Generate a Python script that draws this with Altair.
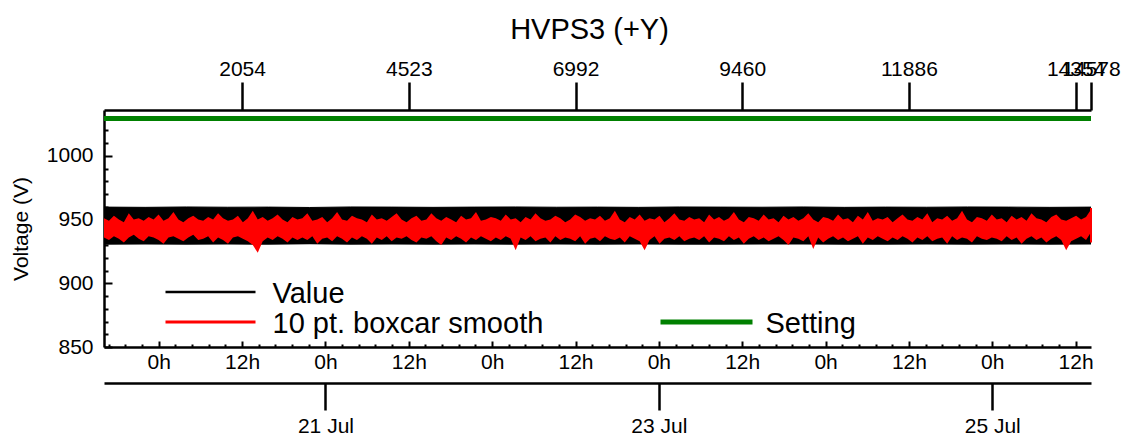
import altair as alt
import pandas as pd

FONT = "Liberation Sans"

title_text = "HVPS3 (+Y)"
y_title = "Voltage (V)"
t_start = "2021-07-19T16:07:00"
t_end = "2021-07-25T14:13:00"

# envelope of the raw "Value" series (dense band)
value_hi = [959.8, 959.6, 959.9, 959.7, 959.8, 959.5, 959.9, 959.8, 959.6, 959.8,
            959.9, 959.7, 959.8, 959.6, 959.9, 959.8, 959.7, 959.9, 959.6, 959.8,
            959.7, 959.9, 959.8, 959.6, 959.8]
value_lo = [930.3, 930.5, 930.2, 930.4, 930.3, 930.6, 930.2, 930.4, 930.3, 930.5,
            930.2, 930.4, 930.3, 930.5, 930.3, 930.2, 930.4, 930.5, 930.3, 930.2,
            930.4, 930.3, 930.5, 930.3, 930.4]

# envelope of the 10 pt. boxcar smooth series
smooth_hi = [
    951, 949, 953, 950, 948, 955, 950, 951, 949, 952, 950, 954, 949, 951, 956, 950, 948, 951, 953, 950,
    949, 952, 950, 955, 951, 949, 950, 953, 948, 951, 957, 950, 952, 949, 951, 954, 950, 948, 952, 950,
    951, 955, 949, 950, 952, 948, 951, 956, 950, 949, 953, 951, 950, 948, 954, 950, 951, 949, 952, 955,
    950, 948, 951, 953, 949, 950, 955, 951, 949, 952, 950, 948, 953, 950, 951, 956, 949, 950, 952, 951,
    949, 954, 950, 951, 948, 952, 950, 955, 951, 949, 950, 953, 951, 948, 950, 954, 952, 949, 951, 950,
    953, 949, 951, 957, 950, 948, 952, 950, 954, 949, 951, 950, 953, 948, 951, 955, 950, 949, 952, 950,
    951, 948, 954, 950, 952, 949, 951, 956, 950, 948, 952, 951, 949, 954, 950, 951, 948, 953, 950, 952,
    949, 951, 955, 950, 948, 952, 951, 949, 954, 950, 951, 948, 953, 950, 956, 949, 951, 950, 952, 948,
    951, 954, 950, 949, 952, 950, 955, 948, 951, 950, 953, 949, 951, 957, 950, 948, 952, 951, 949, 954,
    950, 951, 948, 953, 950, 952, 949, 955, 951, 950, 948, 952, 954, 950, 949, 951, 953, 950, 952, 958,
]
smooth_lo = [
    936, 934, 937, 935, 932, 936, 938, 935, 933, 937, 936, 934, 931, 936, 937, 935, 933, 936, 938, 934,
    935, 937, 932, 936, 934, 931, 936, 937, 935, 933, 930, 924, 933, 936, 934, 937, 935, 932, 936, 934,
    936, 934, 937, 931, 935, 936, 933, 937, 935, 932, 936, 934, 937, 935, 931, 936, 934, 937, 933, 936,
    935, 937, 934, 932, 936, 935, 937, 933, 930, 936, 934, 937, 935, 932, 936, 934, 937, 935, 933, 936,
    934, 937, 935, 926, 936, 934, 937, 933, 935, 936, 932, 937, 934, 936, 935, 933, 937, 931, 935, 936,
    933, 937, 935, 934, 936, 932, 937, 935, 933, 926, 934, 937, 931, 935, 936, 934, 937, 933, 935, 936,
    934, 937, 932, 936, 935, 933, 937, 934, 936, 931, 935, 937, 934, 936, 933, 935, 937, 934, 930, 936,
    935, 933, 937, 927, 936, 932, 935, 937, 934, 936, 933, 935, 937, 931, 936, 934, 937, 935, 933, 936,
    934, 937, 935, 932, 936, 934, 937, 933, 935, 936, 931, 937, 934, 936, 935, 932, 937, 935, 934, 936,
    935, 933, 937, 934, 936, 931, 935, 937, 934, 936, 932, 935, 937, 934, 926, 933, 935, 937, 934, 940,
]

setting_value = [1029.3, 1029.3]
end_spike = [932, 959]

top_tick_times = ["2021-07-20T12:00:00", "2021-07-21T12:00:00", "2021-07-22T12:00:00",
                  "2021-07-23T12:00:00", "2021-07-24T12:00:00", "2021-07-25T12:00:00", t_end]
top_tick_labels = ["2054", "4523", "6992", "9460", "11886", "14354", "14578"]
date_tick_times = ["2021-07-21", "2021-07-23", "2021-07-25"]
legend_labels = ["Value", "10 pt. boxcar smooth", "Setting"]

y_major = [850, 900, 950, 1000]
y_minor = [v for v in range(860, 1040, 10) if v not in y_major]


def ms(s):
    return int(pd.Timestamp(s).value // 10**6)


def ms_range(start, end, n):
    return [int(v // 10**6) for v in pd.date_range(start, end, periods=n).asi8]


ms_start, ms_end = ms(t_start), ms(t_end)
HOUR = 3600 * 1000

hour_ticks = list(range(ms("2021-07-20T00:00:00"), ms_end, 12 * HOUR))
minor_step = int(2.4 * HOUR)
minor_ticks = []
v = ms("2021-07-20T00:00:00")
while v - minor_step >= ms_start:
    v -= minor_step
while v < ms_end:
    if v not in hour_ticks:
        minor_ticks.append(v)
    v += minor_step
top_ticks = [ms(s) for s in top_tick_times]
date_ticks = [ms(s) for s in date_tick_times]

expr = "'" + top_tick_labels[-1] + "'"
for i in range(len(top_ticks) - 2, -1, -1):
    mid = (top_ticks[i] + top_ticks[i + 1]) // 2
    expr = f"datum.value < {mid} ? '{top_tick_labels[i]}' : ({expr})"

value_df = pd.DataFrame({"t": ms_range(t_start, t_end, len(value_hi)), "hi": value_hi, "lo": value_lo})
smooth_df = pd.DataFrame({"t": ms_range(t_start, t_end, len(smooth_hi)), "hi": smooth_hi, "lo": smooth_lo})
setting_df = pd.DataFrame({"t": [ms_start, ms_end], "v": setting_value})
spike_df = pd.DataFrame({"t": [ms_end], "lo": [end_spike[0]], "hi": [end_spike[1]]})

x_scale = alt.Scale(type="utc", domain=[ms_start, ms_end], nice=False)
y_scale = alt.Scale(domain=[850, 1036], nice=False, zero=False)

base_axis = dict(grid=False, domainColor="black", tickColor="black", labelColor="black",
                 labelFont=FONT, titleFont=FONT, labelOverlap=False, labelFlush=False,
                 labelBound=False, title=None)


def ax(**kw):
    d = dict(base_axis)
    d.update(kw)
    return alt.Axis(**d)


ax_hours = ax(orient="bottom", values=hour_ticks, labelExpr="utcFormat(datum.value, '%-H') + 'h'",
              offset=-6, tickSize=6, tickWidth=2, domain=False, labelFontSize=21, labelPadding=4)
ax_xminor = ax(orient="bottom", values=minor_ticks, offset=-3, tickSize=3, tickWidth=2,
               domain=False, labels=False)
ax_xdomain = ax(orient="bottom", ticks=False, labels=False, domain=True, domainWidth=2.5,
                values=hour_ticks)
ax_top = ax(orient="top", values=top_ticks, labelExpr=expr, tickSize=28, tickWidth=2.5,
            domain=True, domainWidth=2.5, labelFontSize=21, labelPadding=3)
ax_dates = ax(orient="bottom", values=date_ticks, labelExpr="utcFormat(datum.value, '%-d %b')",
              offset=36, tickSize=27, tickWidth=2.5, domain=True, domainWidth=2.5,
              labelFontSize=21, labelPadding=5)

ax_ylab = ax(orient="left", values=y_major, format="d", offset=-8, tickSize=8, tickWidth=2,
             domain=False, labelFontSize=21, labelPadding=11, title=y_title, titleFontSize=21,
             titleFontWeight="normal", titleColor="black", titlePadding=15)
ax_yminor = ax(orient="left", values=y_minor, offset=-4, tickSize=4, tickWidth=2,
               domain=False, labels=False)
ax_ydomain = ax(orient="left", values=y_major, ticks=False, labels=False, domain=True,
                domainWidth=2.5)

black_band = alt.Chart(value_df).mark_area(color="black", interpolate="linear").encode(
    x=alt.X("t:T", scale=x_scale, axis=ax_hours),
    y=alt.Y("hi:Q", scale=y_scale, axis=ax_ylab),
    y2="lo:Q",
)
black_edge = alt.Chart(value_df).mark_line(color="black", strokeWidth=1).encode(
    x=alt.X("t:T", scale=x_scale, axis=ax_dates),
    y=alt.Y("hi:Q", scale=y_scale, axis=None),
)
red_band = alt.Chart(smooth_df).mark_area(color="#ff0000", interpolate="linear").encode(
    x=alt.X("t:T", scale=x_scale, axis=ax_xminor),
    y=alt.Y("hi:Q", scale=y_scale, axis=ax_yminor),
    y2="lo:Q",
)
red_spike = alt.Chart(spike_df).mark_rule(color="#ff0000", strokeWidth=2).encode(
    x=alt.X("t:T", scale=x_scale, axis=ax_xdomain),
    y=alt.Y("lo:Q", scale=y_scale, axis=None),
    y2="hi:Q",
)
setting_line = alt.Chart(setting_df).mark_line(color="#008000", strokeWidth=5).encode(
    x=alt.X("t:T", scale=x_scale, axis=ax_top),
    y=alt.Y("v:Q", scale=y_scale, axis=ax_ydomain),
)

leg_df = pd.DataFrame({"label": legend_labels})


def leg_rule(i, color, width, x0, x1, y):
    return alt.Chart(leg_df.iloc[[i]]).mark_rule(color=color, strokeWidth=width).encode(
        x=alt.value(x0), x2=alt.value(x1), y=alt.value(y))


def leg_text(i, x, y):
    return alt.Chart(leg_df.iloc[[i]]).mark_text(
        font=FONT, fontSize=29, align="left", baseline="alphabetic", color="black"
    ).encode(x=alt.value(x), y=alt.value(y), text="label:N")


legend = [
    leg_rule(0, "black", 2.5, 61.5, 151.5, 182), leg_text(0, 168.5, 193),
    leg_rule(1, "#ff0000", 3, 61.5, 151.5, 212), leg_text(1, 168.5, 223),
    leg_rule(2, "#008000", 5, 556.5, 648.5, 212), leg_text(2, 661.5, 223),
]

title_mark = alt.Chart(pd.DataFrame({"title": [title_text]})).mark_text(
    font=FONT, fontSize=29, align="center", baseline="alphabetic", color="black"
).encode(x=alt.value(485.5), y=alt.value(-71), text="title:N")

chart = alt.layer(
    black_band, black_edge, red_band, red_spike, setting_line, *legend, title_mark
).resolve_scale(x="shared", y="shared").resolve_axis(x="independent", y="independent").properties(
    width=987, height=237,
    autosize="none",
    background="white",
    padding={"left": 96, "top": 102, "right": 30, "bottom": 90},
).configure_view(stroke=None, strokeWidth=0)

chart.save("out.html", embed_options={"renderer": "svg", "actions": False})
